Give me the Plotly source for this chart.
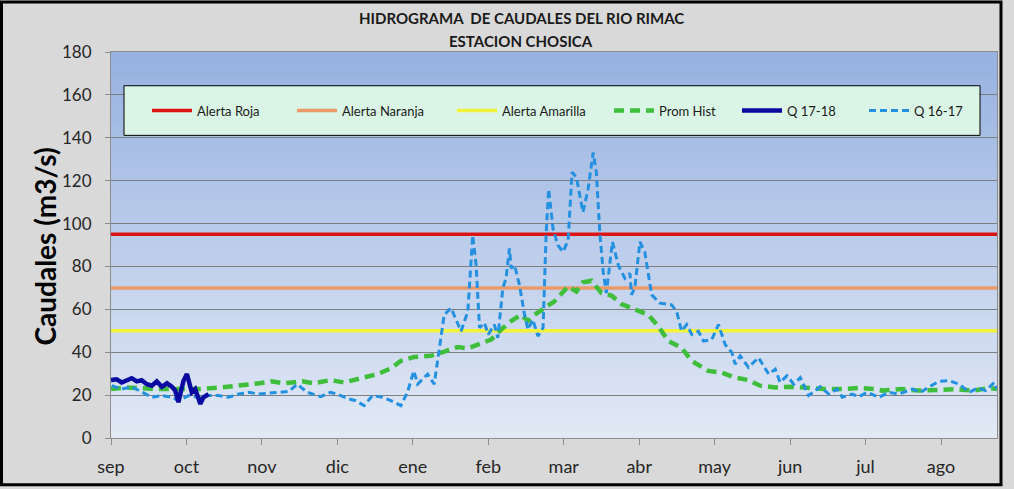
import plotly.graph_objects as go

# ---------------- data ----------------
month_labels = ["sep", "oct", "nov", "dic", "ene", "feb", "mar", "abr", "may", "jun", "jul", "ago"]
month_ticks = [0, 31, 62, 93, 124, 155, 186, 217, 248, 279, 310, 341]

alert_names = ["Alerta Roja", "Alerta Naranja", "Alerta Amarilla"]
alert_values = [95, 70, 50]

prom_days = [0, 5.8, 11.3, 18, 25, 36, 45.6, 53, 61, 66, 71, 74.4, 78.6, 83.4, 90.2, 95.7,
             102.6, 109.5, 115, 119, 124.6, 131.4, 137, 142.4, 146.6, 149.3, 152, 156.2,
             160.3, 164.4, 168.5, 171.3, 174, 178.1, 182.2, 187.8, 191.2, 193.9, 197.4,
             201.5, 205.6, 209.7, 215.2, 220.7, 224.8, 229, 234.4, 238.6, 245.4, 250.9,
             256.4, 261.9, 266.7, 272.9, 279.8, 286.6, 293.5, 300.4, 307.2, 314.1, 316.9,
             325.1, 332, 340.2, 347.1, 353.9, 360.8, 364]
prom_vals = [22.8, 23.6, 23.3, 22.8, 22.8, 22.8, 23.6, 24.4, 25.5, 26.4, 25.5, 25.9, 26.5,
             25.5, 27.0, 25.9, 27.9, 29.8, 32.5, 35.9, 37.8, 38.3, 40.3, 42.4, 41.8, 42.9,
             44.5, 45.9, 50.6, 54.5, 57.5, 54.5, 57.5, 60.6, 63.7, 70.7, 68.3, 72.6, 73.3,
             67.6, 66.4, 62.5, 59.8, 57.5, 52.2, 45.2, 42.1, 35.9, 31.3, 30.5, 28.2, 27.0,
             24.4, 23.6, 23.9, 23.3, 22.8, 22.8, 23.3, 22.8, 22.1, 22.8, 22.1, 22.4, 22.8,
             22.1, 23.3, 22.8]

q1718_days = [0, 2.3, 4.4, 6.5, 8.5, 10.6, 12.6, 14.7, 16.8, 18.8, 20.9, 23.0, 25.0, 26.4,
              27.7, 28.8, 29.8, 31.2, 32.1, 33.2, 34.6, 36.7, 38.0, 40.1]
q1718_vals = [27.0, 27.4, 25.9, 26.7, 27.9, 26.4, 27.0, 25.1, 24.4, 26.4, 23.9, 25.5, 23.9,
              22.1, 16.7, 22.1, 26.7, 29.8, 25.1, 21.3, 22.8, 15.9, 19.0, 20.5]

q1617_days = [0.3, 4.4, 8.5, 12.6, 16.8, 20.9, 25.0, 27.7, 31.9, 36.0, 40.1, 44.2, 48.3,
              52.5, 56.6, 60.7, 64.8, 68.9, 73.1, 76.5, 80.6, 86.1, 90.2, 94.4, 97.8, 100.5,
              104.0, 107.4, 111.5, 115.0, 119.1, 121.8, 124.4, 126.0, 130.1, 132.8, 134.9,
              136.9, 139.7, 141.7, 143.8, 146.6, 148.6, 150.0, 151.4, 153.4, 155.0, 157.5,
              158.9, 161.0, 162.3, 163.7, 164.4, 165.8, 167.8, 169.9, 171.3, 173.3, 175.4,
              177.5, 178.8, 179.8, 181.6, 183.6, 185.7, 187.8, 189.4, 191.2, 193.9, 196.0,
              198.1, 199.4, 200.8, 202.2, 203.5, 206.0, 208.4, 211.1, 213.2, 213.8, 215.2,
              217.3, 219.3, 222.1, 225.5, 230.3, 232.4, 234.4, 236.5, 238.6, 241.3, 243.4,
              246.8, 249.6, 252.3, 255.1, 256.4, 258.5, 261.9, 266.0, 270.2, 272.9, 274.9,
              277.7, 280.5, 283.2, 286.6, 291.4, 294.9, 298.3, 300.4, 304.5, 307.2, 310.7,
              315.5, 319.6, 323.7, 329.2, 332.6, 336.1, 340.2, 344.3, 348.5, 352.6, 356.0,
              359.4, 362.9, 364]
q1617_vals = [24.4, 22.8, 23.9, 21.3, 19.0, 19.8, 19.0, 17.4, 19.8, 19.0, 19.8, 19.8, 19.0,
              20.5, 21.3, 20.5, 20.8, 21.3, 21.7, 25.1, 21.3, 19.3, 21.3, 19.8, 18.2, 17.4,
              15.1, 19.8, 19.0, 17.4, 15.1, 21.3, 31.3, 25.1, 29.8, 25.1, 40.6, 57.5, 60.6,
              55.2, 49.8, 59.0, 94.5, 80.6, 51.4, 53.7, 48.3, 52.9, 46.7, 69.9, 74.5, 88.4,
              79.1, 80.6, 71.4, 57.5, 50.6, 55.2, 47.5, 51.4, 96.1, 116.1, 97.6, 89.9, 86.8,
              92.2, 123.9, 121.6, 105.3, 116.1, 133.1, 123.9, 96.1, 77.6, 67.6, 91.5, 80.6,
              74.5, 76.8, 66.8, 69.9, 91.5, 86.8, 66.8, 62.9, 62.1, 59.0, 49.8, 52.9, 48.3,
              49.8, 45.2, 45.9, 52.9, 43.6, 39.8, 34.4, 38.3, 32.9, 37.5, 29.8, 32.1, 25.9,
              29.0, 25.1, 28.2, 19.8, 23.9, 20.5, 22.8, 19.0, 20.5, 19.3, 21.3, 19.0, 21.3,
              20.5, 22.8, 21.3, 23.9, 26.4, 26.7, 25.1, 21.3, 23.3, 22.1, 25.9, 22.8]

# ---------------- layout geometry ----------------
W, H = 1014, 489
L, R, T, B = 111, 17, 52, 48
PW, PH = W - L - R, H - T - B
X_RANGE = [0, 364]


def px_x(px):
    return (px - L) / PW


def px_y(py):
    return (H - B - py) / PH


FONT = "Lato, 'Open Sans', sans-serif"

fig = go.Figure()

alert_colors = ["#DC1414", "#EB9A68", "#F2F23A"]
legend_ids = ["legend", "legend2", "legend3", "legend4", "legend5", "legend6"]

for i, (name, val) in enumerate(zip(alert_names, alert_values)):
    fig.add_trace(go.Scatter(
        x=[X_RANGE[0], X_RANGE[1]], y=[val, val], mode="lines", name=name,
        line=dict(color=alert_colors[i], width=3.5), legend=legend_ids[i],
        hoverinfo="skip"))

fig.add_trace(go.Scatter(
    x=prom_days, y=prom_vals, mode="lines", name="Prom Hist",
    line=dict(color="#3EBE3A", width=4.5, dash="10px,6px"), legend=legend_ids[3]))

fig.add_trace(go.Scatter(
    x=q1617_days, y=q1617_vals, mode="lines", name="Q 16-17",
    line=dict(color="#2491E0", width=3, dash="7px,4px"), legend=legend_ids[5]))

fig.add_trace(go.Scatter(
    x=q1718_days, y=q1718_vals, mode="lines", name="Q 17-18",
    line=dict(color="#0A0AA0", width=4.5), legend=legend_ids[4]))

# ---------------- gradient plot background ----------------
shapes = []
N = 60
top_rgb = (150, 177, 224)
bot_rgb = (226, 233, 245)
for k in range(N):
    t = (k + 0.5) / N
    c = tuple(int(round(top_rgb[j] + (bot_rgb[j] - top_rgb[j]) * t)) for j in range(3))
    y1 = 1 - k / N
    y0 = 1 - (k + 1) / N - 0.002
    shapes.append(dict(type="rect", xref="paper", yref="paper", x0=0, x1=1,
                       y0=max(y0, 0), y1=y1, fillcolor="rgb(%d,%d,%d)" % c,
                       line=dict(width=0), layer="below"))

# legend box
shapes.append(dict(type="rect", xref="paper", yref="paper",
                   x0=px_x(124), x1=px_x(980), y0=px_y(136), y1=px_y(86),
                   fillcolor="#DAF5E5", line=dict(color="#000000", width=1), layer="above"))

# outer chart frame
shapes.append(dict(type="rect", xref="paper", yref="paper",
                   x0=px_x(1.5), x1=px_x(1001), y0=px_y(488), y1=px_y(1.5),
                   fillcolor="rgba(0,0,0,0)", line=dict(color="#000000", width=3), layer="above"))

# legends (one per entry, placed like the original)
legend_starts = [155, 300, 460, 617, 745, 872]
legend_layout = {}
for lid, sx in zip(legend_ids, legend_starts):
    legend_layout[lid] = dict(
        x=px_x(sx - 8), xanchor="left", y=px_y(111), yanchor="middle",
        orientation="h", bgcolor="rgba(0,0,0,0)", borderwidth=0,
        font=dict(family=FONT, size=13, color="#1a1a1a"), itemwidth=40)

annotations = [
    dict(text="HIDROGRAMA  DE CAUDALES DEL RIO RIMAC", xref="paper", yref="paper",
         x=px_x(521), y=px_y(18), xanchor="center", yanchor="middle", showarrow=False,
         font=dict(family=FONT, size=15, color="#1a1a1a", weight="bold")),
    dict(text="ESTACION CHOSICA", xref="paper", yref="paper",
         x=px_x(521), y=px_y(41), xanchor="center", yanchor="middle", showarrow=False,
         font=dict(family=FONT, size=15, color="#1a1a1a", weight="bold")),
    dict(text="Caudales (m3/s)", xref="paper", yref="paper", textangle=-90,
         x=px_x(45), y=px_y(248), xanchor="center", yanchor="middle", showarrow=False,
         font=dict(family=FONT, size=28, color="#000000", weight="bold")),
]

fig.update_layout(
    width=W, height=H,
    margin=dict(l=L, r=R, t=T, b=B, pad=0),
    paper_bgcolor="#D9D9D9",
    plot_bgcolor="#DDE5F3",
    shapes=shapes,
    annotations=annotations,
    showlegend=True,
    **legend_layout,
)

fig.update_xaxes(
    range=X_RANGE, tickmode="array", tickvals=month_ticks, ticktext=month_labels,
    showgrid=False, zeroline=False, showline=True, linecolor="#8C8C8C", linewidth=1,
    mirror=True, ticks="outside", ticklen=6, tickcolor="#8C8C8C",
    ticklabelstandoff=6,
    tickfont=dict(family=FONT, size=18, color="#262626"))

fig.update_yaxes(
    range=[0, 180], dtick=20, tick0=0,
    showgrid=True, gridcolor="#7F7F7F", gridwidth=1, zeroline=False,
    showline=True, linecolor="#8C8C8C", linewidth=1, mirror=True,
    ticks="outside", ticklen=5, tickcolor="#8C8C8C", ticklabelstandoff=10,
    tickfont=dict(family=FONT, size=17, color="#262626"))

fig.write_html("out.html", config={"displayModeBar": False},
               post_script="document.body.style.margin='0';")
